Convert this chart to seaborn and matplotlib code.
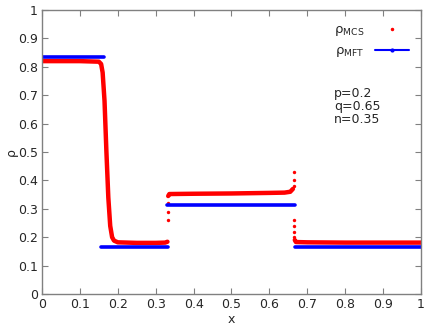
import pandas as pd
import numpy as np
import matplotlib
matplotlib.use('Agg')
import matplotlib.pyplot as plt
import seaborn as sns
from matplotlib.lines import Line2D

# MCS (red dots), split into continuous pieces
mcs_x_a = [0.0, 0.10, 0.15, 0.156, 0.160, 0.165, 0.170, 0.175, 0.180, 0.185, 0.190, 0.200, 0.25, 0.30, 0.325, 0.331]
mcs_y_a = [0.82, 0.82, 0.818, 0.81, 0.78, 0.68, 0.50, 0.34, 0.24, 0.20, 0.188, 0.182, 0.180, 0.180, 0.181, 0.184]
mcs_x_b = [0.333, 0.336, 0.40, 0.50, 0.60, 0.64, 0.655, 0.662]
mcs_y_b = [0.345, 0.352, 0.353, 0.354, 0.356, 0.357, 0.360, 0.370]
mcs_x_c = [0.667, 0.670, 0.70, 0.80, 0.90, 1.0]
mcs_y_c = [0.190, 0.183, 0.182, 0.181, 0.181, 0.181]
# stray points at the jumps
stray_x = [0.332, 0.332, 0.332, 0.665, 0.665, 0.665, 0.666, 0.666, 0.666, 0.666]
stray_y = [0.32, 0.29, 0.26, 0.43, 0.40, 0.38, 0.26, 0.24, 0.22, 0.20]

# MFT (blue) steps
mft_x = [[0.0, 0.164], [0.157, 0.333], [0.330, 0.667], [0.667, 1.0]]
mft_y = [[0.833, 0.833], [0.167, 0.167], [0.312, 0.312], [0.167, 0.167]]

params_text = 'p=0.2\nq=0.65\nn=0.35'

sns.set_style('ticks')
plt.rcParams['font.family'] = ['DejaVu Sans']
plt.rcParams['mathtext.default'] = 'regular'

fig = plt.figure(figsize=(4.36, 3.27), dpi=100)
ax = fig.add_axes([0.0963, 0.1009, 0.8693, 0.8685])

mcs = pd.concat([
    pd.DataFrame({'x': mcs_x_a, 'y': mcs_y_a, 'seg': 'a'}),
    pd.DataFrame({'x': mcs_x_b, 'y': mcs_y_b, 'seg': 'b'}),
    pd.DataFrame({'x': mcs_x_c, 'y': mcs_y_c, 'seg': 'c'}),
])
sns.lineplot(data=mcs, x='x', y='y', units='seg', estimator=None, sort=False,
             color='red', linewidth=3.2, ax=ax, legend=False)
sns.scatterplot(x=stray_x, y=stray_y, color='red', s=6, linewidth=0, ax=ax)

mft = pd.concat([pd.DataFrame({'x': xs, 'y': ys, 'seg': i})
                 for i, (xs, ys) in enumerate(zip(mft_x, mft_y))])
sns.lineplot(data=mft, x='x', y='y', units='seg', estimator=None, sort=False,
             color='blue', linewidth=2.6, ax=ax, legend=False)

ax.set_xlim(0, 1)
ax.set_ylim(0, 1)
ticks = np.arange(0, 1.01, 0.1)
tick_labels = ['0'] + ['%.1f' % t for t in ticks[1:-1]] + ['1']
ax.set_xticks(ticks)
ax.set_xticklabels(tick_labels)
ax.set_yticks(ticks)
ax.set_yticklabels(tick_labels)
ax.tick_params(direction='in', length=4, width=0.8, color='#808080',
               top=True, right=True, labelsize=9, pad=3)
for s in ax.spines.values():
    s.set_color('#808080')
    s.set_linewidth(1.0)
ax.set_xlabel('x', fontsize=9, labelpad=1)
ax.set_ylabel('ρ', fontsize=9)
ax.yaxis.set_label_coords(-0.064, 0.5)

handles = [
    Line2D([], [], color='red', marker='.', linestyle='none', markersize=3),
    Line2D([], [], color='blue', marker='.', linestyle='-', markersize=4, linewidth=1.5),
]
ax.legend(handles, [r'$\rho_{MCS}$', r'$\rho_{MFT}$'], loc='upper right',
          frameon=False, markerfirst=False, fontsize=9.5, handlelength=2.6,
          bbox_to_anchor=(1.0, 0.995), labelspacing=0.45)

ax.text(0.77, 0.73, params_text, fontsize=9, va='top', ha='left', linespacing=1.0)

fig.savefig('out.png', dpi=100)
